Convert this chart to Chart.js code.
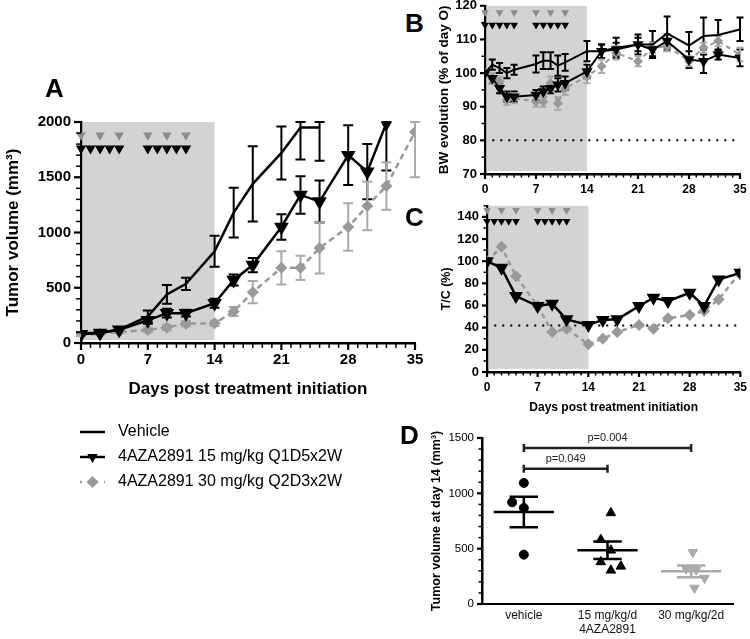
<!DOCTYPE html>
<html lang="en">
<head>
<meta charset="UTF-8">
<title>4AZA2891 tumor growth, body weight and T/C</title>
<script src="https://cdn.jsdelivr.net/npm/chart.js"></script>
<style>
  body { margin: 0; background: #fff; }
  #wrap { position: relative; width: 750px; height: 639px; overflow: hidden; }
  canvas { position: absolute; }
  .panel { position: absolute; font-family: "Liberation Sans", Arial, sans-serif; font-weight: bold; font-size: 26px; line-height: 26px; }
</style>
</head>
<body>
<div id="wrap">
  <canvas id="chartA" width="430" height="460" style="left:0;top:60px"></canvas>
  <canvas id="chartB" width="320" height="215" style="left:430px;top:-5px"></canvas>
  <canvas id="chartC" width="320" height="225" style="left:430px;top:195px"></canvas>
  <canvas id="chartD" width="325" height="219" style="left:425px;top:420px"></canvas>
  <div class="panel" style="left:45px;top:75px">A</div>
  <div class="panel" style="left:405px;top:10px">B</div>
  <div class="panel" style="left:405px;top:204px">C</div>
  <div class="panel" style="left:400px;top:422px">D</div>
</div>
<script>
// ---- data ----
const seriesNames = ['Vehicle', '4AZA2891 15 mg/kg Q1D5x2W', '4AZA2891 30 mg/kg Q2D3x2W'];
const dosesQ1D = [0, 1, 2, 3, 4, 7, 8, 9, 10, 11];   // black triangles
const dosesQ2D = [0, 2, 4, 7, 9, 11];                // grey triangles
const treatWindow = [0, 14];

// A: tumor volume (mm3)
const daysA = [0, 2, 4, 7, 9, 11, 14, 16, 18, 21, 23, 25, 28, 30, 32, 35];
const vehicleA = [85, 95, 120, 240, 440, 535, 830, 1180, 1440, 1720, 1950, 1950, null, null, null, null];
const vehicleErrA = [10, 10, 15, 55, 85, 55, 140, 225, 340, 240, 290, 300, null, null, null, null];
const mg15A = [80, 90, 120, 205, 270, 270, 360, 570, 705, 1050, 1340, 1280, 1700, 1550, 1990, null];
const mg15ErrA = [10, 10, 15, 30, 40, 30, 40, 50, 65, 115, 170, 190, 270, 250, 430, null];
const mg30A = [70, 85, 100, 118, 140, 175, 178, 285, 460, 680, 680, 860, 1050, 1240, 1420, 1910];
const mg30ErrA = [10, 10, 10, 20, 25, 25, 25, 40, 100, 150, 110, 230, 215, 220, 215, 410];

// B: body weight (% of day 0)
const daysB = [0, 1, 2, 3, 4, 7, 8, 9, 10, 11, 14, 16, 18, 21, 23, 25, 28, 30, 32, 35];
const vehicleB = [100, 102.5, 101.5, 100, 101, 102.7, 103.7, 103.7, 102.2, 103.2, 106.5, 106.5, 107.5, 108.5, 108.5, 111.8, 108.2, 111, 111.3, 113];
const vehicleErrB = [0, 1.5, 1.5, 1.5, 1.5, 2.5, 2.5, 2.5, 3, 2.5, 3, 2, 3, 3, 4, 5, 4, 5.5, 4.5, 3.5];
const mg15B = [100, 98.5, 95.5, 93, 93, 93.5, 94.5, 95.5, 96.5, 97, 100.5, 106.5, 107, 108.5, 107, 109.5, 104, 103.5, 105.5, 104.5];
const mg15ErrB = [0, 1.5, 1.5, 1.5, 1.5, 1.5, 1.5, 1.5, 2, 2, 2, 2, 2, 2, 2, 2, 2.5, 3.5, 1.5, 2.5];
const mg30B = [100, 98.5, 97.5, 92, 92.5, 91.5, 91.5, 97, 91, 95.5, 99, 102, 106, 103.5, 107.5, 108, 103.5, 107.5, 109.5, 105.5];
const mg30ErrB = [0, 1.5, 1.5, 1.5, 1.5, 1.5, 1.5, 2, 2, 2, 2, 2, 2, 1.5, 1.5, 1.5, 1.5, 1.5, 1.5, 2];
const bwLimit = 80;

// C: T/C (%)
const mg15C = [100, 94, 68.5, 59.5, 61.5, 47.5, 42.5, 47, 47.5, 59.5, 67, 64, 71.5, 59.5, 83.5, 89.5];
const mg30C = [100, 113, 86.5, 59.5, 36, 39, 25, 30, 36, 42.5, 39, 48.5, 51.5, 55, 65.5, 90];
const tcLimit = 42;
const refSpan = [1, 35];

// D: tumor volume at day 14
const groupsD = ['vehicle', '15 mg/kg/d', '30 mg/kg/2d'];
const drugName = '4AZA2891';
const vehicleD = [1094, 919, 868, 446];
const mg15D = [823, 581, 485, 380, 304, 340];
const mg30D = [467, 319, 310, 235, 145];
const jitterD = [[0, -0.14, 0, 0], [0.04, -0.08, 0.04, -0.08, 0.04, 0.16], [0.02, -0.06, 0.06, 0.16, 0.04]];
const pairsD = [
  { from: 0, to: 1, y: 1223, label: 'p=0.049' },
  { from: 0, to: 2, y: 1410, label: 'p=0.004' }
];

// ---- helpers ----
const FONT = '"Liberation Sans", Arial, sans-serif';
Chart.defaults.font.family = FONT;
Chart.defaults.color = '#000';
const BLACK = '#000', GREY = '#999', LIGHT = '#aaa', DOSE_GREY = '#8c8c8c', SHADE = '#d3d3d3';

const pts = (xs, ys) => xs.map((x, i) => ({ x: x, y: ys[i] }));
const every = n => v => (v % n === 0 ? v : '');

// error bars from dataset.errors
const errorBars = {
  id: 'errorBars',
  beforeDatasetsDraw(chart) {
    const { ctx, scales: { x, y } } = chart;
    ctx.save();
    chart.data.datasets.forEach(ds => {
      if (!ds.errors) return;
      ctx.strokeStyle = ds.errorColor || BLACK;
      ctx.lineWidth = ds.errorWidth || 2;
      const cap = ds.errorCap || 4;
      ds.data.forEach((p, j) => {
        const e = ds.errors[j];
        if (p.y == null || !e) return;
        const px = x.getPixelForValue(p.x);
        const hi = Math.min(p.y + e, y.max), lo = Math.max(p.y - e, y.min);
        const t = y.getPixelForValue(hi), b = y.getPixelForValue(lo);
        ctx.beginPath();
        ctx.moveTo(px, t); ctx.lineTo(px, b);
        ctx.moveTo(px - cap, t); ctx.lineTo(px + cap, t);
        ctx.moveTo(px - cap, b); ctx.lineTo(px + cap, b);
        ctx.stroke();
      });
    });
    ctx.restore();
  }
};

// grey treatment window
const shade = {
  id: 'shade',
  beforeDatasetsDraw(chart, args, opts) {
    if (!opts || opts.to == null) return;
    const { ctx, chartArea: a, scales: { x } } = chart;
    const x0 = x.getPixelForValue(opts.from), x1 = x.getPixelForValue(opts.to);
    ctx.save();
    ctx.fillStyle = SHADE;
    ctx.fillRect(x0 + 1.5, a.top, x1 - x0 - 1.5, a.height - 3);
    ctx.restore();
  }
};

// outward tick marks (major + minor) on the axis lines
const tickMarks = {
  id: 'tickMarks',
  afterDraw(chart, args, opts) {
    const { ctx, chartArea: a } = chart;
    ctx.save();
    ctx.strokeStyle = BLACK;
    ['x', 'y'].forEach(id => {
      const o = opts[id], s = chart.scales[id];
      if (!o || !s) return;
      s.ticks.forEach(t => {
        const major = t.value % o.major === 0;
        const len = major ? o.len : o.len * 0.7;
        const p = s.getPixelForValue(t.value);
        ctx.lineWidth = major ? 2.2 : 1.5;
        ctx.beginPath();
        if (id === 'x') { ctx.moveTo(p, a.bottom); ctx.lineTo(p, a.bottom + len); }
        else { ctx.moveTo(a.left, p); ctx.lineTo(a.left - len, p); }
        ctx.stroke();
      });
    });
    ctx.restore();
  }
};

Chart.register(shade, errorBars, tickMarks);

function dayAxis(size, height, title) {
  return {
    type: 'linear', min: 0, max: 35,
    afterFit: s => { s.height = height; },
    ticks: { stepSize: 1, autoSkip: false, maxRotation: 0, padding: 3, color: BLACK,
      font: { weight: 'bold', size: size }, callback: every(7) },
    grid: { display: false, drawTicks: true, tickLength: 5 },
    border: { display: true, color: BLACK, width: 2.5 },
    title: title || { display: false }
  };
}

function valAxis(o) {
  return {
    type: 'linear', min: o.min, max: o.max,
    afterFit: s => { s.width = o.width; },
    ticks: { stepSize: o.step, autoSkip: false, padding: 3, color: BLACK,
      font: { weight: o.weight || 'bold', size: o.size }, callback: every(o.label) },
    grid: { display: false, drawTicks: true, tickLength: o.tick || 6 },
    border: { display: true, color: BLACK, width: 2.5 },
    title: { display: true, text: o.title, color: BLACK,
      font: { weight: 'bold', size: o.titleSize }, padding: { top: o.titlePad, bottom: 0 } }
  };
}

function doseSets(xsGrey, yGrey, xsBlack, yBlack, rGrey, rBlack) {
  return [
    { data: pts(xsGrey, xsGrey.map(() => yGrey)), showLine: false, pointStyle: 'triangle', rotation: 180,
      pointRadius: rGrey, backgroundColor: DOSE_GREY, borderColor: DOSE_GREY, pointBorderWidth: 0, clip: false },
    { data: pts(xsBlack, xsBlack.map(() => yBlack)), showLine: false, pointStyle: 'triangle', rotation: 180,
      pointRadius: rBlack, backgroundColor: BLACK, borderColor: BLACK, pointBorderWidth: 0, clip: false }
  ];
}

const base = {
  responsive: false, animation: false, devicePixelRatio: 1, events: []
};
const basePlugins = { legend: { display: false }, tooltip: { enabled: false } };

// ---- legend under panel A ----
const legendA = {
  id: 'legendA',
  afterDraw(chart) {
    const ctx = chart.ctx;
    const rows = [
      { color: BLACK, dash: [], style: null },
      { color: BLACK, dash: [], style: 'triangle', rot: 180 },
      { color: GREY, dash: [2, 6], style: 'rectRot', rot: 0 }
    ];
    rows.forEach((r, i) => {
      const y = 372 + i * 25;
      ctx.save();
      ctx.strokeStyle = r.color; ctx.fillStyle = r.color; ctx.lineWidth = 2.5;
      ctx.setLineDash(r.dash);
      ctx.beginPath(); ctx.moveTo(80, y); ctx.lineTo(105, y); ctx.stroke();
      ctx.setLineDash([]);
      if (r.style) Chart.helpers.drawPoint(ctx, { pointStyle: r.style, rotation: r.rot, radius: 6, borderWidth: 0 }, 92.5, y);
      ctx.fillStyle = BLACK;
      ctx.font = '16px ' + FONT;
      ctx.textBaseline = 'middle';
      ctx.fillText(seriesNames[i], 118, y);
      ctx.restore();
    });
  }
};

// ---- A ----
new Chart(document.getElementById('chartA'), {
  type: 'line',
  data: { datasets: [
    { data: pts(daysA, vehicleA), errors: vehicleErrA, errorCap: 5, borderColor: BLACK, borderWidth: 2.5, pointRadius: 0 },
    { data: pts(daysA, mg15A), errors: mg15ErrA, errorCap: 5, borderColor: BLACK, backgroundColor: BLACK, borderWidth: 2.5,
      pointStyle: 'triangle', rotation: 180, pointRadius: 6 },
    { data: pts(daysA, mg30A), errors: mg30ErrA, errorCap: 5, errorColor: LIGHT, borderColor: GREY, backgroundColor: GREY,
      borderWidth: 2.5, borderDash: [6, 4], pointStyle: 'rectRot', pointRadius: 6, pointBorderWidth: 0 },
    ...doseSets(dosesQ2D, 1880, dosesQ1D, 1760, 5.5, 6)
  ] },
  options: Object.assign({}, base, {
    layout: { padding: { top: 62, right: 15, bottom: 120, left: 0 }, autoPadding: false },
    plugins: Object.assign({}, basePlugins, {
      shade: { from: treatWindow[0], to: treatWindow[1] },
      tickMarks: { x: { major: 7, len: 7 }, y: { major: 500, len: 7 } }
    }),
    scales: {
      x: dayAxis(15, 57, { display: true, text: 'Days post treatment initiation', color: BLACK,
        font: { weight: 'bold', size: 17 }, padding: { top: 0, bottom: 0 } }),
      y: valAxis({ min: 0, max: 2000, step: 100, label: 500, width: 81, size: 15, tick: 7,
        title: 'Tumor volume (mm³)', titleSize: 17, titlePad: 3 })
    }
  }),
  plugins: [legendA]
});

// ---- B ----
new Chart(document.getElementById('chartB'), {
  type: 'line',
  data: { datasets: [
    { data: pts(daysB, vehicleB), errors: vehicleErrB, errorCap: 3.5, borderColor: BLACK, borderWidth: 2, pointRadius: 0 },
    { data: pts(daysB, mg15B), errors: mg15ErrB, errorCap: 3.5, borderColor: BLACK, backgroundColor: BLACK, borderWidth: 2,
      pointStyle: 'triangle', rotation: 180, pointRadius: 4.5 },
    { data: pts(daysB, mg30B), errors: mg30ErrB, errorCap: 3.5, errorColor: LIGHT, borderColor: GREY, backgroundColor: GREY,
      borderWidth: 2, borderDash: [5, 4], pointStyle: 'rectRot', pointRadius: 5, pointBorderWidth: 0 },
    { data: pts(refSpan, refSpan.map(() => bwLimit)), borderColor: BLACK, borderWidth: 2, borderDash: [2, 6], pointRadius: 0 },
    ...doseSets(dosesQ2D, 118, dosesQ1D, 114.3, 4.5, 4.5)
  ] },
  options: Object.assign({}, base, {
    layout: { padding: { top: 10, right: 10, bottom: 0, left: 0 }, autoPadding: false },
    plugins: Object.assign({}, basePlugins, {
      shade: { from: treatWindow[0], to: treatWindow[1] },
      tickMarks: { x: { major: 7, len: 5 }, y: { major: 10, len: 5 } }
    }),
    scales: {
      x: dayAxis(12, 36),
      y: valAxis({ min: 70, max: 120, step: 5, label: 10, width: 55, size: 13, tick: 5,
        title: 'BW evolution (% of day O)', titleSize: 13.5, titlePad: 6 })
    }
  })
});

// ---- C ----
new Chart(document.getElementById('chartC'), {
  type: 'line',
  data: { datasets: [
    { data: pts(daysA, mg15C), borderColor: BLACK, backgroundColor: BLACK, borderWidth: 2.5,
      pointStyle: 'triangle', rotation: 180, pointRadius: 5.5 },
    { data: pts(daysA, mg30C), borderColor: GREY, backgroundColor: GREY, borderWidth: 2.5, borderDash: [5, 4],
      pointStyle: 'rectRot', pointRadius: 6, pointBorderWidth: 0 },
    { data: pts(refSpan, refSpan.map(() => tcLimit)), borderColor: BLACK, borderWidth: 2, borderDash: [2, 6], pointRadius: 0 },
    ...doseSets(dosesQ2D, 146, dosesQ1D, 136, 4.5, 4.5)
  ] },
  options: Object.assign({}, base, {
    layout: { padding: { top: 9, right: 8, bottom: 0, left: 0 }, autoPadding: false },
    plugins: Object.assign({}, basePlugins, {
      shade: { from: treatWindow[0], to: treatWindow[1] },
      tickMarks: { x: { major: 7, len: 5 }, y: { major: 20, len: 5 } }
    }),
    scales: {
      x: dayAxis(12, 48, { display: true, text: 'Days post treatment initiation', color: BLACK,
        font: { weight: 'bold', size: 12 }, padding: { top: 0, bottom: 5 } }),
      y: valAxis({ min: 0, max: 150, step: 10, label: 20, width: 57, size: 13, tick: 5,
        title: 'T/C (%)', titleSize: 12.5, titlePad: 9.5 })
    }
  })
});

// ---- D ----
const groupValues = [vehicleD, mg15D, mg30D];
const groupColors = [BLACK, BLACK, LIGHT];
const meanSem = {
  id: 'meanSem',
  afterDatasetsDraw(chart) {
    const { ctx, scales: { x, y } } = chart;
    ctx.save();
    ctx.lineWidth = 2.5;
    groupValues.forEach((vals, g) => {
      const n = vals.length;
      const m = vals.reduce((a, b) => a + b, 0) / n;
      const sd = Math.sqrt(vals.reduce((a, b) => a + (b - m) * (b - m), 0) / (n - 1));
      const sem = sd / Math.sqrt(n);
      const py = y.getPixelForValue(m), pt = y.getPixelForValue(m + sem), pb = y.getPixelForValue(m - sem);
      const xc = x.getPixelForValue(g);
      ctx.strokeStyle = groupColors[g];
      ctx.beginPath();
      ctx.moveTo(x.getPixelForValue(g - 0.36), py); ctx.lineTo(x.getPixelForValue(g + 0.36), py);
      ctx.moveTo(xc, pt); ctx.lineTo(xc, pb);
      ctx.moveTo(x.getPixelForValue(g - 0.17), pt); ctx.lineTo(x.getPixelForValue(g + 0.17), pt);
      ctx.moveTo(x.getPixelForValue(g - 0.17), pb); ctx.lineTo(x.getPixelForValue(g + 0.17), pb);
      ctx.stroke();
    });
    ctx.strokeStyle = '#222';
    ctx.fillStyle = '#222';
    ctx.font = '11px ' + FONT;
    ctx.textAlign = 'center';
    ctx.textBaseline = 'bottom';
    pairsD.forEach(p => {
      const x0 = x.getPixelForValue(p.from), x1 = x.getPixelForValue(p.to), py = y.getPixelForValue(p.y);
      ctx.beginPath();
      ctx.moveTo(x0, py); ctx.lineTo(x1, py);
      ctx.moveTo(x0, py - 4); ctx.lineTo(x0, py + 4);
      ctx.moveTo(x1, py - 4); ctx.lineTo(x1, py + 4);
      ctx.stroke();
      ctx.fillText(p.label, (x0 + x1) / 2, py - 4);
    });
    ctx.restore();
  }
};

new Chart(document.getElementById('chartD'), {
  type: 'scatter',
  data: { datasets: [
    { data: vehicleD.map((v, i) => ({ x: 0 + jitterD[0][i], y: v })), pointStyle: 'circle', pointRadius: 4.5,
      backgroundColor: BLACK, borderColor: BLACK },
    { data: mg15D.map((v, i) => ({ x: 1 + jitterD[1][i], y: v })), pointStyle: 'triangle', pointRadius: 5.5,
      backgroundColor: BLACK, borderColor: BLACK },
    { data: mg30D.map((v, i) => ({ x: 2 + jitterD[2][i], y: v })), pointStyle: 'triangle', rotation: 180, pointRadius: 5.5,
      backgroundColor: LIGHT, borderColor: LIGHT }
  ] },
  options: Object.assign({}, base, {
    layout: { padding: { top: 18, right: 17, bottom: 0, left: 0 }, autoPadding: false },
    plugins: Object.assign({}, basePlugins, {
      tickMarks: { y: { major: 500, len: 5 } }
    }),
    scales: {
      x: {
        type: 'linear', min: -0.5, max: 2.5,
        afterFit: s => { s.height = 35; },
        afterBuildTicks: s => { s.ticks = groupsD.map((g, i) => ({ value: i })); },
        ticks: { autoSkip: false, maxRotation: 0, padding: 4, color: '#111', font: { size: 12 },
          callback: v => (v === 1 ? [groupsD[v], drugName] : groupsD[v]) },
        grid: { display: false, drawTicks: false },
        border: { display: true, color: BLACK, width: 2 }
      },
      y: valAxis({ min: 0, max: 1500, step: 100, label: 500, width: 57, size: 11.5, weight: 'normal', tick: 5,
        title: 'Tumor volume at day 14 (mm³)', titleSize: 12.5, titlePad: 4.5 })
    }
  }),
  plugins: [meanSem]
});
</script>
</body>
</html>
